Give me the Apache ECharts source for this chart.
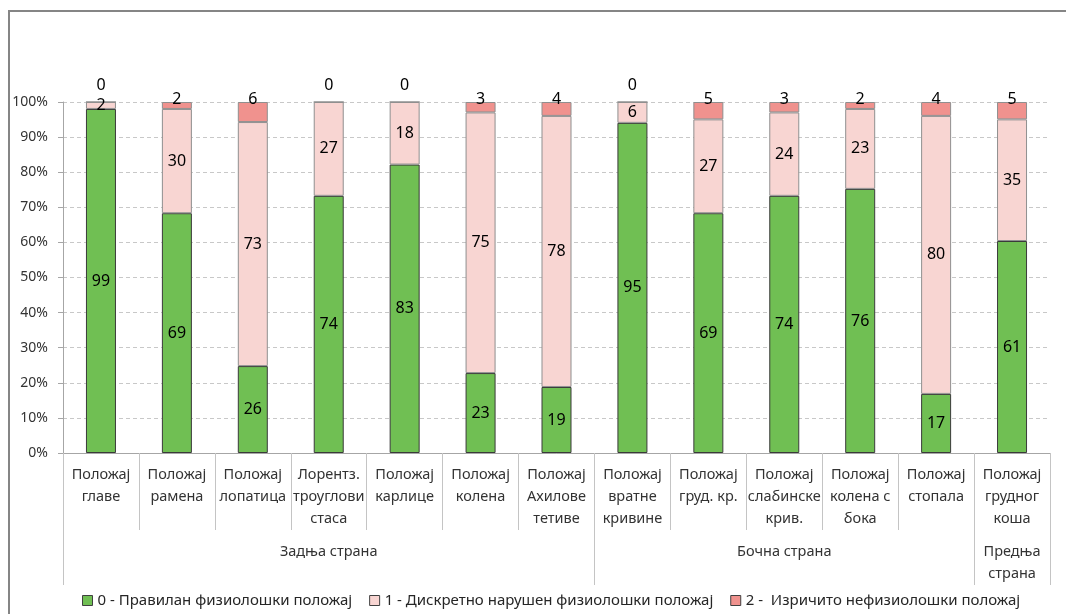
<!DOCTYPE html>
<html lang="sr">

<head>
    <meta charset="UTF-8">
    <title>Положај тела</title>
    <script src="https://cdn.jsdelivr.net/npm/echarts@6.0.0/dist/echarts.min.js"></script>
    <style>
        html, body { margin: 0; padding: 0; background: #fff; overflow: hidden; }
        #main { position: absolute; left: 0; top: 0; width: 1066px; height: 614px; }
        #frame {
            position: absolute; left: 8px; top: 10px; width: 1200px; height: 800px;
            border-top: 2px solid #858585; border-left: 2px solid #858585;
            pointer-events: none;
        }
    </style>
</head>

<body>
    <div id="main"></div>
    <div id="frame"></div>
    <script>
        // категорије (ред по ред у ознаци)
        const categories = [
            "Положај\nглаве", "Положај\nрамена", "Положај\nлопатица", "Лорентз.\nтроуглови\nстаса",
            "Положај\nкарлице", "Положај\nколена", "Положај\nАхилове\nтетиве",
            "Положај\nвратне\nкривине", "Положај\nгруд. кр.", "Положај\nслабинске\nкрив.",
            "Положај\nколена с\nбока", "Положај\nстопала", "Положај\nгрудног\nкоша"
        ];
        const groupNames = ["Задња страна", "Бочна страна", "Предња\nстрана"];
        const groupSizes = [7, 5, 1];

        const seriesNames = [
            "0 - Правилан физиолошки положај",
            "1 - Дискретно нарушен физиолошки положај",
            "2 -  Изричито нефизиолошки положај"
        ];
        const normal = [99, 69, 26, 74, 83, 23, 19, 95, 69, 74, 76, 17, 61];
        const mild = [2, 30, 73, 27, 18, 75, 78, 6, 27, 24, 23, 80, 35];
        const severe = [0, 2, 6, 0, 0, 3, 4, 0, 5, 3, 2, 4, 5];

        const yTicks = [0, 10, 20, 30, 40, 50, 60, 70, 80, 90, 100];

        const colors = ["#70bf53", "#f8d5d2", "#f0928e"];
        const borders = ["#3a3a3a", "#8f8f8f", "#8f8f8f"];
        const FONT = "Noto Sans";

        const raw = [normal, mild, severe];
        const totals = normal.map((v, i) => v + mild[i] + severe[i]);

        // границе и средине група
        let acc = 0;
        const groupEdges = [0];
        const groupCenters = [];
        groupSizes.forEach(s => {
            groupCenters.push(acc + s / 2);
            acc += s;
            groupEdges.push(acc);
        });

        const chart = echarts.init(document.getElementById('main'));

        const series = raw.map((vals, si) => ({
            name: seriesNames[si],
            type: 'bar',
            stack: 'total',
            barWidth: 30,
            xAxisIndex: 0,
            itemStyle: { color: colors[si], borderColor: borders[si], borderWidth: 1 },
            label: {
                show: true,
                position: 'inside',
                color: '#000',
                fontFamily: FONT,
                fontSize: 16,
                formatter: p => String(vals[p.dataIndex])
            },
            data: vals.map((v, i) => {
                const item = { value: v / totals[i] * 100 };
                if (si === 2) {
                    item.label = v === 0
                        ? { position: 'top', distance: 8 }
                        : { position: 'top', distance: -5 };
                }
                return item;
            })
        }));

        const option = {
            animation: false,
            backgroundColor: '#fff',
            textStyle: { fontFamily: FONT },
            grid: { left: 63, right: 16, top: 102, bottom: 161 },
            legend: {
                top: 588,
                left: 77,
                icon: 'rect',
                itemWidth: 10,
                itemHeight: 10,
                itemGap: 17,
                itemStyle: { borderColor: '#404040', borderWidth: 1 },
                textStyle: { fontFamily: FONT, fontSize: 15, color: '#262626' },
                data: seriesNames
            },
            xAxis: [
                {
                    type: 'category',
                    data: categories,
                    position: 'bottom',
                    axisLine: { lineStyle: { color: '#a6a6a6' } },
                    axisTick: { show: true, interval: 0, length: 77, lineStyle: { color: '#c4c4c4' } },
                    axisLabel: {
                        interval: 0, margin: 11, lineHeight: 22,
                        fontFamily: FONT, fontSize: 14.5, color: '#333'
                    }
                },
                {
                    type: 'value',
                    min: 0,
                    max: categories.length,
                    position: 'bottom',
                    offset: 0,
                    axisLine: { show: false },
                    splitLine: { show: false },
                    axisTick: {
                        show: true, length: 132, customValues: groupEdges,
                        lineStyle: { color: '#c4c4c4' }
                    },
                    axisLabel: {
                        customValues: groupCenters,
                        margin: 88, lineHeight: 22,
                        fontFamily: FONT, fontSize: 14.5, color: '#333',
                        formatter: v => groupNames[groupCenters.indexOf(v)] || ''
                    }
                }
            ],
            yAxis: {
                type: 'value',
                min: yTicks[0],
                max: yTicks[yTicks.length - 1],
                interval: 10,
                axisLine: { show: true, lineStyle: { color: '#a6a6a6' } },
                axisTick: { show: true, length: 5, lineStyle: { color: '#a6a6a6' } },
                splitLine: { lineStyle: { color: '#c8c8c8', type: [4, 3] } },
                axisLabel: {
                    formatter: '{value}%', margin: 15,
                    fontFamily: FONT, fontSize: 14, color: '#333'
                }
            },
            series: series
        };

        chart.setOption(option);
    </script>
</body>

</html>
